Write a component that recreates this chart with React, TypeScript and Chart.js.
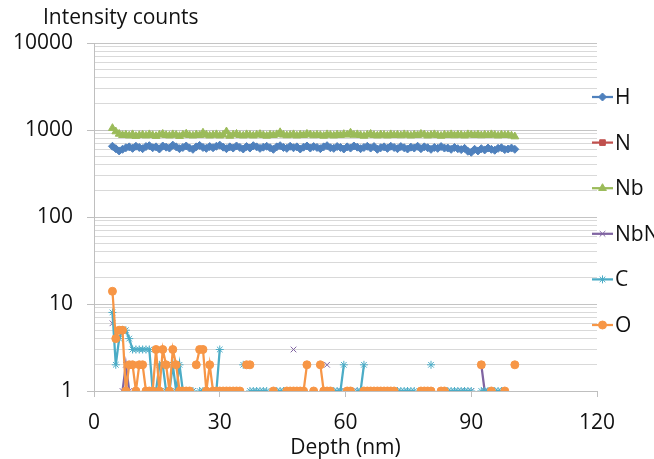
import React, { useEffect, useRef } from 'react';
import { Chart, registerables } from 'chart.js';
import { drawPoint } from 'chart.js/helpers';

Chart.register(...registerables);

const _ = null;

// Depth (nm) of each measurement
const depth = [
  4.4, 5.2, 6.0, 6.8, 7.6, 8.4, 9.2, 10.0, 10.8, 11.6,
  12.4, 13.2, 14.0, 14.8, 15.6, 16.4, 17.2, 18.0, 18.8, 19.6,
  20.4, 21.2, 22.0, 22.8, 23.6, 24.4, 25.2, 26.0, 26.8, 27.6,
  28.4, 29.2, 30.0, 30.8, 31.6, 32.4, 33.2, 34.0, 34.8, 35.6,
  36.4, 37.2, 38.0, 38.8, 39.6, 40.4, 41.2, 42.0, 42.8, 43.6,
  44.4, 45.2, 46.0, 46.8, 47.6, 48.4, 49.2, 50.0, 50.8, 51.6,
  52.4, 53.2, 54.0, 54.8, 55.6, 56.4, 57.2, 58.0, 58.8, 59.6,
  60.4, 61.2, 62.0, 62.8, 63.6, 64.4, 65.2, 66.0, 66.8, 67.6,
  68.4, 69.2, 70.0, 70.8, 71.6, 72.4, 73.2, 74.0, 74.8, 75.6,
  76.4, 77.2, 78.0, 78.8, 79.6, 80.4, 81.2, 82.0, 82.8, 83.6,
  84.4, 85.2, 86.0, 86.8, 87.6, 88.4, 89.2, 90.0, 90.8, 91.6,
  92.4, 93.2, 94.0, 94.8, 95.6, 96.4, 97.2, 98.0, 98.8, 99.6,
  100.4,
];

const H = [
  650, 610, 575, 600, 625, 640, 615, 650, 630, 610,
  645, 660, 625, 640, 605, 655, 635, 620, 670, 640,
  610, 630, 655, 620, 600, 640, 665, 630, 615, 645,
  625, 650, 670, 635, 610, 640, 620, 655, 630, 605,
  645, 620, 660, 640, 615, 635, 650, 625, 600, 640,
  660, 630, 615, 650, 625, 640, 605, 635, 655, 620,
  645, 630, 610, 640, 660, 625, 615, 645, 630, 605,
  640, 620, 655, 635, 610, 630, 650, 620, 645, 600,
  625, 640, 615, 650, 630, 610, 645, 625, 605, 635,
  620, 650, 610, 640, 625, 600, 630, 615, 645, 620,
  620, 600, 630, 610, 595, 615, 570, 555, 600, 575,
  610, 590, 620, 600, 585, 615, 625, 595, 605, 620,
  600,
];

const N = [
  _, _, _, _, _, _, _, _, _, _,
  _, _, _, _, _, _, _, _, _, _,
  _, _, _, _, _, _, _, _, _, _,
  _, _, _, _, _, _, _, _, _, _,
  _, _, _, _, _, _, _, _, _, _,
  _, _, _, _, _, _, 1, _, _, _,
  _, _, _, _, _, _, _, _, _, _,
  _, 1, _, _, _, _, _, _, _, _,
  _, 1, _, _, _, _, _, _, _, _,
  _, _, _, _, _, _, _, _, _, _,
  _, _, _, _, _, _, _, _, _, _,
  2, _, _, _, _, _, _, _, _, _,
  _,
];

const Nb = [
  1050, 960, 900, 870, 880, 860, 890, 850, 870, 880,
  860, 890, 870, 850, 880, 900, 870, 860, 890, 875,
  850, 880, 905, 870, 860, 885, 870, 930, 880, 860,
  875, 890, 860, 880, 960, 855, 885, 900, 870, 860,
  890, 875, 860, 880, 895, 870, 855, 880, 870, 890,
  940, 880, 865, 875, 890, 860, 880, 870, 900, 885,
  865, 880, 870, 855, 890, 875, 860, 885, 870, 895,
  880, 930, 875, 890, 870, 855, 880, 900, 870, 860,
  885, 875, 860, 890, 870, 880, 865, 890, 875, 860,
  880, 870, 900, 885, 860, 875, 890, 870, 855, 880,
  870, 890, 865, 880, 875, 860, 890, 880, 870, 885,
  865, 880, 870, 890, 875, 860, 880, 870, 875, 860,
  840,
];

const NbN = [
  6, _, _, 1, 2, 1, _, _, _, _,
  _, _, _, _, _, _, _, _, _, _,
  _, _, _, 1, 1, _, _, _, _, _,
  _, _, _, _, _, _, _, _, _, _,
  _, _, _, _, _, _, _, _, _, _,
  _, _, _, _, 3, _, 1, _, _, _,
  _, _, _, _, 2, _, _, _, 1, _,
  _, 1, 1, _, _, _, _, _, _, 1,
  1, _, _, _, _, _, _, _, _, _,
  _, _, _, _, _, _, _, _, _, _,
  _, _, _, _, 1, _, _, 1, _, _,
  2, 1, _, _, _, _, _, _, _, _,
  _,
];

const C = [
  8, 2, 4, 5, 5, 4, 3, 3, 3, 3,
  3, 3, 1, 1, 2, 2, 1, 1, 2, 1,
  2, 1, 1, 1, 1, _, 1, 1, 1, _,
  1, 1, 3, _, _, _, _, _, _, 2,
  _, 1, 1, 1, 1, 1, 1, _, _, 1,
  1, 1, _, _, _, _, _, _, _, _,
  _, _, _, _, _, _, 1, 1, 1, 2,
  _, _, _, 1, 1, 2, _, _, _, _,
  _, 1, _, 1, _, 1, 1, 1, 1, 1,
  1, _, _, _, _, 2, _, _, _, 1,
  1, 1, 1, 1, 1, 1, 1, 1, _, _,
  1, 1, 1, _, 1, 1, 1, _, _, _,
  _,
];

const O = [
  14, 4, 5, 5, 1, 2, 2, 1, 2, 2,
  1, 1, 1, 3, 1, 3, 2, 1, 3, 2,
  1, 1, 1, 1, _, 2, 3, 3, 1, 2,
  1, 1, 1, 1, 1, 1, 1, 1, 1, _,
  2, 2, _, _, _, _, _, _, 1, _,
  _, _, 1, 1, 1, 1, 1, 1, 2, _,
  1, _, 2, 1, 1, 1, _, _, _, _,
  1, 1, _, _, _, 1, 1, 1, 1, 1,
  1, 1, 1, 1, 1, _, _, _, _, _,
  _, _, 1, 1, 1, 1, _, _, 1, 1,
  _, _, _, _, _, _, _, _, _, _,
  2, _, _, 1, _, _, _, 1, _, _,
  2,
];

const seriesNames = ['H', 'N', 'Nb', 'NbN', 'C', 'O'];
const seriesValues = [H, N, Nb, NbN, C, O];
const seriesColors = ['#4F81BD', '#C0504D', '#9BBB59', '#8064A2', '#4BACC6', '#F79646'];
const seriesMarkers = ['rectRot', 'rect', 'triangle', 'crossRot', 'star', 'circle'];
const seriesMarkerSizes = [4, 4, 4.5, 4, 4, 4];

const yMajorTicks = [1, 10, 100, 1000, 10000];
const yMinorSteps = [2, 3, 4, 5, 6, 7, 8, 9];
const xTickStep = 30;
const xMin = 0;
const xMax = 120;

const yTitle = 'Intensity counts';
const xTitle = 'Depth (nm)';

const FONT = '"Open Sans"';
const FONT_SIZE = 21;
const TEXT_COLOR = '#111111';

const titlePlugin = {
  id: 'topTitle',
  afterDraw(chart: any) {
    const ctx = chart.ctx;
    ctx.save();
    ctx.font = `${FONT_SIZE}px ${FONT}`;
    ctx.fillStyle = TEXT_COLOR;
    ctx.textAlign = 'left';
    ctx.textBaseline = 'middle';
    ctx.fillText(yTitle, 43, 18);
    ctx.restore();
  },
};

const legendPlugin = {
  id: 'sideLegend',
  afterDraw(chart: any) {
    const ctx = chart.ctx;
    ctx.save();
    chart.data.datasets.forEach((ds: any, i: number) => {
      const y = 97 + i * 45.6;
      ctx.strokeStyle = ds.borderColor;
      ctx.lineWidth = 2.25;
      ctx.beginPath();
      ctx.moveTo(592, y);
      ctx.lineTo(613, y);
      ctx.stroke();
      ctx.fillStyle = ds.pointBackgroundColor;
      ctx.strokeStyle = ds.pointBorderColor;
      ctx.lineWidth = 1;
      drawPoint(ctx, { pointStyle: ds.pointStyle, radius: ds.pointRadius, borderWidth: 1, rotation: 0 }, 602.5, y);
      ctx.font = `${FONT_SIZE}px ${FONT}`;
      ctx.fillStyle = TEXT_COLOR;
      ctx.textAlign = 'left';
      ctx.textBaseline = 'middle';
      ctx.fillText(ds.label, 615, y + 1);
    });
    ctx.restore();
  },
};

export default function App() {
  const canvasRef = useRef<HTMLCanvasElement | null>(null);

  useEffect(() => {
    const canvas = canvasRef.current;
    if (!canvas) return;

    const datasets = seriesNames.map((name, k) => ({
      label: name,
      data: depth.map((d, i) => ({ x: d, y: seriesValues[k][i] ?? null })),
      borderColor: seriesColors[k],
      backgroundColor: seriesColors[k],
      pointBackgroundColor: seriesColors[k],
      pointBorderColor: seriesColors[k],
      pointStyle: seriesMarkers[k],
      pointRadius: seriesMarkerSizes[k],
      pointBorderWidth: 1,
      borderWidth: 2.25,
      spanGaps: false,
      tension: 0,
      order: seriesNames.length - k,
    }));

    const yTickList: number[] = [];
    yMajorTicks.forEach((m, idx) => {
      yTickList.push(m);
      if (idx < yMajorTicks.length - 1) yMinorSteps.forEach((s) => yTickList.push(m * s));
    });

    const chart = new Chart(canvas, {
      type: 'line',
      data: { datasets },
      plugins: [titlePlugin, legendPlugin],
      options: {
        animation: false,
        responsive: false,
        devicePixelRatio: 1,
        layout: { padding: { left: 0, top: 43, right: 57, bottom: 0 } },
        plugins: {
          legend: { display: false },
          tooltip: { enabled: false },
        },
        scales: {
          x: {
            type: 'linear',
            min: xMin,
            max: xMax,
            afterFit: (scale: any) => { scale.height = 68; },
            ticks: {
              stepSize: xTickStep,
              padding: 13,
              color: TEXT_COLOR,
              font: { family: FONT, size: FONT_SIZE },
              maxRotation: 0,
            },
            grid: {
              drawOnChartArea: false,
              drawTicks: true,
              tickLength: 6,
              tickColor: '#bfbfbf',
            },
            border: { display: true, color: '#bfbfbf', width: 1 },
            title: {
              display: true,
              text: xTitle,
              color: TEXT_COLOR,
              font: { family: FONT, size: FONT_SIZE },
              padding: { top: 0, bottom: -2 },
            },
          },
          y: {
            type: 'logarithmic',
            min: 1,
            max: 10000,
            afterFit: (scale: any) => { scale.width = 94; },
            afterBuildTicks: (scale: any) => {
              scale.ticks = yTickList.map((v) => ({ value: v, major: yMajorTicks.includes(v) }));
            },
            ticks: {
              autoSkip: false,
              padding: 14,
              color: TEXT_COLOR,
              font: { family: FONT, size: FONT_SIZE },
              callback: (v: any) => (yMajorTicks.includes(Number(v)) ? String(v) : ''),
            },
            grid: {
              color: (ctx: any) => (yMajorTicks.includes(ctx.tick?.value) ? '#c4c4c4' : '#d9d9d9'),
              tickColor: (ctx: any) => (yMajorTicks.includes(ctx.tick?.value) ? '#bfbfbf' : 'rgba(0,0,0,0)'),
              tickLength: 7,
              lineWidth: 1,
            },
            border: { display: true, color: '#bfbfbf', width: 1 },
          },
        },
      },
    } as any);

    return () => chart.destroy();
  }, []);

  return (
    <div style={{ position: 'absolute', left: 0, top: 0, width: 654, height: 459, background: '#fff' }}>
      <canvas ref={canvasRef} width={654} height={459} style={{ display: 'block' }} />
    </div>
  );
}
